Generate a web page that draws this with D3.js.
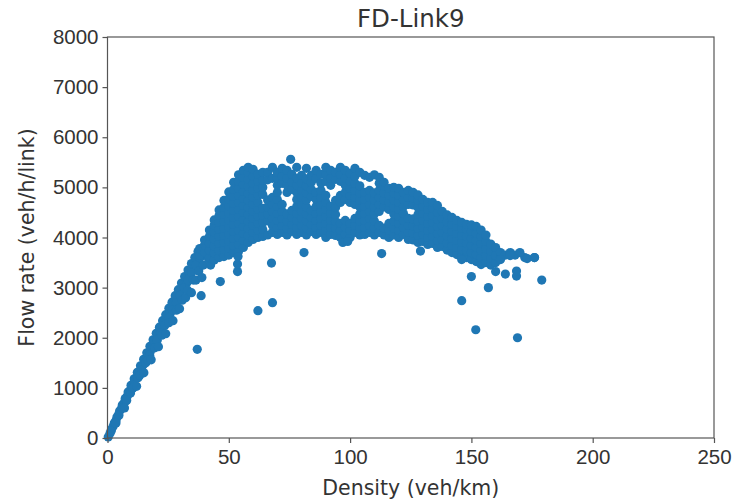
<!DOCTYPE html>
<html>
<head>
<meta charset="utf-8">
<script src="https://cdn.jsdelivr.net/npm/d3@7"></script>
<style>
  body { margin: 0; background: #fff; }
  svg { display: block; font-family: "DejaVu Sans", sans-serif; }
  .axis text { fill: #333; font-size: 20.5px; }
  .axis line { stroke: #555; stroke-width: 1.2; }
</style>
</head>
<body>
<div id="chart"></div>
<script>
// Tick values
var xTicks = [0, 50, 100, 150, 200, 250];
var yTicks = [0, 1000, 2000, 3000, 4000, 5000, 6000, 7000, 8000];

// Free-flow branch, [density, flow]
var freeFlowPoints = [
  [0.3, 20], [1.0, 90], [1.6, 170], [2.3, 230], [2.8, 300], [3.5, 350], [3.9, 420], [4.6, 470],
  [5.0, 540], [5.8, 590], [6.1, 660], [7.0, 710], [7.3, 790], [8.2, 840], [8.5, 920], [9.5, 960],
  [9.7, 1050], [10.8, 1090], [11.0, 1180], [12.2, 1220], [12.3, 1310], [13.5, 1350], [13.6, 1440],
  [14.9, 1470], [14.9, 1570], [16.2, 1600], [16.2, 1700], [17.6, 1720], [17.5, 1830], [19.0, 1850],
  [18.8, 1960], [20.3, 1980], [20.1, 2090], [21.7, 2100], [21.4, 2210], [23.0, 2230], [22.7, 2340],
  [24.4, 2350], [24.0, 2460], [25.8, 2480], [25.3, 2590], [27.2, 2600], [26.6, 2710], [28.6, 2730],
  [27.9, 2840], [30.0, 2850], [29.2, 2960], [31.4, 2980], [30.5, 3090], [32.8, 3100], [31.8, 3220],
  [34.1, 3230], [33.2, 3350], [35.5, 3360], [34.6, 3480], [36.9, 3490], [36.0, 3600], [38.3, 3610],
  [37.3, 3720],
  [1.5, 140], [3.2, 300], [4.7, 450], [6.3, 600], [7.9, 750], [9.5, 900], [11.1, 1050], [12.6, 1200],
  [14.2, 1350], [15.8, 1500], [17.4, 1650], [18.9, 1800], [20.5, 1950], [22.1, 2100], [23.7, 2250],
  [25.3, 2400], [26.8, 2550], [28.4, 2700], [30.0, 2850], [31.6, 3000], [33.2, 3150], [34.7, 3300],
  [36.3, 3450], [37.9, 3600], [39.5, 3750],
  [3.5, 300], [7.0, 600], [10.5, 1000], [12.0, 1030], [13.3, 1250], [15.0, 1300], [16.6, 1550],
  [18.0, 1560], [19.5, 1800], [21.0, 1820], [22.4, 2050], [24.0, 2080], [25.3, 2300], [27.0, 2340],
  [28.4, 2550], [29.7, 2580], [30.8, 2750], [32.2, 2800], [33.0, 2950], [34.6, 2900], [35.4, 3150],
  [36.5, 3150], [37.6, 3330], [38.9, 3200], [39.5, 3450], [41.6, 3580], [42.5, 3450], [43.5, 3680]
];

// Congested cloud, one column per density: [density, [flows]]
var congestedColumns = [
  [38, [3650, 3780]],
  [40, [3700, 3850, 3950]],
  [42, [3600, 3740, 3880, 4020, 4150]],
  [44, [3550, 3690, 3830, 3970, 4110, 4250, 4350]],
  [46, [3600, 3740, 3880, 4020, 4160, 4300, 4440, 4550]],
  [48, [3620, 3760, 3900, 4040, 4180, 4320, 4460, 4600, 4740]],
  [50, [3650, 3790, 3930, 4070, 4210, 4350, 4490, 4630, 4770, 4910]],
  [52, [3700, 3840, 3980, 4120, 4260, 4400, 4540, 4680, 4820, 4960, 5100]],
  [54, [3720, 3860, 4000, 4140, 4280, 4420, 4560, 4700, 4840, 4980, 5120, 5250]],
  [56, [3800, 3940, 4080, 4220, 4360, 4500, 4640, 4780, 4920, 5060, 5200, 5340]],
  [58, [3900, 4040, 4180, 4320, 4460, 4600, 4740, 4880, 5020, 5160, 5300, 5400]],
  [60, [3960, 4100, 4240, 4380, 4520, 4660, 4800, 4940, 5080, 5220, 5360]],
  [62, [4000, 4140, 4280, 4420, 4560, 4700, 4840, 4980, 5120, 5260]],
  [64, [4020, 4160, 4300, 4440, 4580, 4860, 5000, 5140, 5300]],
  [66, [4050, 4330, 4470, 4610, 4750, 5150, 5300]],
  [68, [4100, 4240, 4380, 4520, 4660, 4800, 5180, 5400]],
  [70, [4060, 4200, 4340, 4480, 4620, 4760, 4900, 5040, 5180, 5300]],
  [72, [4100, 4240, 4380, 4520, 4660, 5080, 5220, 5380]],
  [74, [4050, 4190, 4330, 4470, 4900, 5040, 5180, 5340]],
  [76, [4120, 4260, 4400, 4540, 4960, 5100, 5260]],
  [78, [4060, 4200, 4340, 4480, 4620, 4760, 4900, 5040, 5180, 5400]],
  [80, [4100, 4240, 4380, 4520, 4660, 4800, 4940, 5080, 5240]],
  [82, [4050, 4190, 4330, 4470, 4610, 4750, 4890, 5030, 5170, 5380]],
  [84, [4120, 4260, 4400, 4540, 4820, 4960, 5100, 5240]],
  [86, [4060, 4200, 4340, 4480, 4620, 4760, 4900, 5180, 5340]],
  [88, [4100, 4240, 4380, 4520, 4660, 4800, 4940, 5080, 5260]],
  [90, [4000, 4140, 4280, 4420, 4560, 4700, 4840, 5120, 5260, 5400]],
  [92, [4060, 4200, 4340, 4480, 4620, 5040, 5180, 5340]],
  [94, [4040, 4180, 4320, 4460, 4600, 4740, 5160, 5300]],
  [96, [4000, 4140, 4280, 4700, 4840, 5120, 5260, 5400]],
  [98, [4060, 4200, 4340, 4760, 4900, 5040, 5180, 5340]],
  [100, [4000, 4140, 4280, 4700, 4840, 4980, 5120, 5280]],
  [102, [4100, 4240, 4380, 4660, 4800, 4940, 5080, 5220, 5380]],
  [104, [4050, 4190, 4330, 4470, 4610, 4750, 4890, 5030, 5300]],
  [106, [4060, 4200, 4340, 4480, 4620, 4760, 4900, 5240]],
  [108, [4100, 4240, 4380, 4520, 4660, 4800, 4940, 5200]],
  [110, [4050, 4190, 4330, 4470, 4610, 4750, 4890, 5250]],
  [112, [4100, 4240, 4520, 4660, 4800, 4940, 5080, 5200]],
  [114, [4050, 4190, 4610, 4750, 4890, 5030, 5100]],
  [116, [4000, 4140, 4280, 4560, 4700, 4840, 4980]],
  [118, [4050, 4190, 4330, 4470, 4610, 4750, 4890, 5000]],
  [120, [4000, 4140, 4280, 4420, 4560, 4700, 4840, 4980]],
  [122, [4060, 4200, 4340, 4480, 4620, 4760, 4900]],
  [124, [3960, 4100, 4240, 4380, 4660, 4800, 4940]],
  [126, [3950, 4090, 4230, 4370, 4650, 4790, 4900]],
  [128, [3900, 4040, 4180, 4320, 4460, 4600, 4740, 4850]],
  [130, [3920, 4060, 4200, 4340, 4480, 4620, 4760]],
  [132, [3860, 4000, 4140, 4280, 4420, 4560, 4700]],
  [134, [3880, 4020, 4160, 4300, 4440, 4580, 4700]],
  [136, [3800, 3940, 4080, 4220, 4360, 4500, 4640]],
  [138, [3820, 3960, 4100, 4240, 4380, 4520]],
  [140, [3750, 3890, 4030, 4170, 4310, 4450]],
  [142, [3700, 3840, 3980, 4120, 4260, 4400]],
  [144, [3660, 3800, 3940, 4080, 4220, 4340]],
  [146, [3620, 3760, 3900, 4040, 4180, 4300]],
  [148, [3600, 3740, 3880, 4020, 4160, 4260]],
  [150, [3560, 3700, 3840, 3980, 4120, 4250]],
  [152, [3520, 3660, 3800, 3940, 4080, 4220]],
  [154, [3460, 3600, 3740, 3880, 4020, 4150]],
  [156, [3500, 3640, 3780, 3920, 4050]],
  [158, [3450, 3590, 3730, 3870]],
  [160, [3500, 3640, 3800]],
  [162, [3600, 3700]],
  [164, [3650]],
  [166, [3700]],
  [168, [3650]],
  [172, [3600]],
  [176, [3600]]
];

// Scattered points away from the main cloud
var outlierPoints = [
  [37, 1770], [38.6, 2840], [46.5, 3120], [53.6, 3320], [53.6, 3470], [53.8, 3620], [62, 2540],
  [68, 2700], [67.6, 3490], [75.5, 5560], [81, 3700], [97, 3900], [99, 3920], [113, 3680],
  [129, 3730], [146, 3560], [150, 3220], [157, 3000], [146, 2740], [151.8, 2160], [169, 2000],
  [179, 3150], [173, 3580], [168.6, 3230], [168.6, 3330], [164, 3270], [160, 3320], [162, 3560],
  [166, 3640], [170, 3700], [176, 3600]
];

(function () {
  var W = 737, H = 503,
      margin = {top: 37, right: 23, bottom: 65, left: 107.5},
      width = W - margin.left - margin.right,
      height = H - margin.top - margin.bottom,
      DOT_FILL = '#1f77b4',
      x = d3.scaleLinear().domain([0, 250]).range([0, width]),
      y = d3.scaleLinear().domain([0, 8000]).range([height, 0]);

  var svg = d3.select('#chart').append('svg')
      .attr('width', W)
      .attr('height', H);

  svg.append('rect').attr('width', W).attr('height', H).attr('fill', '#fff');

  var g = svg.append('g')
      .attr('transform', 'translate(' + margin.left + ',' + margin.top + ')');

  // flatten the columns into points
  var points = freeFlowPoints.slice();
  congestedColumns.forEach(function (col) {
    col[1].forEach(function (f) { points.push([col[0], f]); });
  });
  points = points.concat(outlierPoints);

  g.selectAll('circle')
    .data(points)
  .enter().append('circle')
    .attr('cx', function (d) { return x(d[0]); })
    .attr('cy', function (d) { return y(d[1]); })
    .attr('r', 4.6)
    .attr('fill', DOT_FILL);

  // X axis
  g.append('g')
    .attr('class', 'axis')
    .attr('transform', 'translate(0,' + height + ')')
    .call(d3.axisBottom(x).tickValues(xTicks).tickSize(5).tickPadding(6))
    .call(function (a) { a.select('.domain').remove(); });

  // Y axis
  g.append('g')
    .attr('class', 'axis')
    .call(d3.axisLeft(y).tickValues(yTicks).tickFormat(d3.format('d')).tickSize(5).tickPadding(4))
    .call(function (a) { a.select('.domain').remove(); });

  // frame
  g.append('rect')
    .attr('width', width)
    .attr('height', height)
    .attr('fill', 'none')
    .attr('stroke', '#555')
    .attr('stroke-width', 1.2);

  // Title
  svg.append('text')
    .attr('x', margin.left + width / 2)
    .attr('y', 27)
    .attr('text-anchor', 'middle')
    .style('font-size', '24.5px')
    .style('fill', '#333')
    .text('FD-Link9');

  // X axis label
  svg.append('text')
    .attr('x', margin.left + width / 2)
    .attr('y', 495)
    .attr('text-anchor', 'middle')
    .style('font-size', '20.5px')
    .style('fill', '#333')
    .text('Density (veh/km)');

  // Y axis label
  svg.append('text')
    .attr('transform', 'translate(34,' + (margin.top + height / 2) + ') rotate(-90)')
    .attr('text-anchor', 'middle')
    .style('font-size', '20.5px')
    .style('fill', '#333')
    .text('Flow rate (veh/h/link)');
})();
</script>
</body>
</html>
